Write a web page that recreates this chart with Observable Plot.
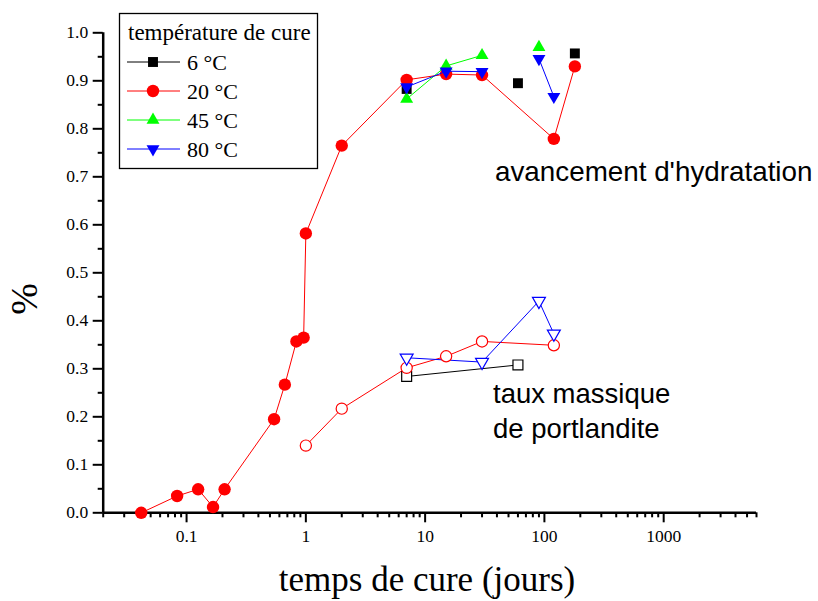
<!DOCTYPE html>
<html><head><meta charset="utf-8">
<script src="https://cdn.jsdelivr.net/npm/d3@7"></script>
<script src="https://cdn.jsdelivr.net/npm/@observablehq/plot@0.6"></script>
<style>body{margin:0;background:#fff} svg{display:block}</style>
</head><body><div id="chart"></div>
<script>
// ---- data ----
const hydr6Days = [7, 60, 180];
const hydr6 = [0.883, 0.895, 0.957];
const hydr20Days = [1/24, 2/24, 3/24, 4/24, 5/24, 13/24, 16/24, 20/24, 23/24, 1, 2, 7, 15, 30, 120, 180];
const hydr20 = [0.0, 0.035, 0.049, 0.012, 0.049, 0.195, 0.267, 0.357, 0.365, 0.582, 0.765, 0.902, 0.914, 0.912, 0.779, 0.930];
const hydr45Days = [7, 15, 30, 90];
const hydr45 = [0.862, 0.931, 0.953, 0.970];
const hydr45Run = [1, 1, 1, 2];
const hydr80Days = [7, 15, 30, 90, 120];
const hydr80 = [0.887, 0.920, 0.919, 0.946, 0.867];
const hydr80Run = [1, 1, 1, 2, 2];
const port6Days = [7, 60];
const port6 = [0.284, 0.308];
const port20Days = [1, 2, 7, 15, 30, 120];
const port20 = [0.140, 0.217, 0.302, 0.326, 0.357, 0.349];
const port80Days = [7, 30, 90, 120];
const port80 = [0.323, 0.314, 0.441, 0.373];

const yMajorTicks = [0, 0.1, 0.2, 0.3, 0.4, 0.5, 0.6, 0.7, 0.8, 0.9, 1.0];
const yMinorTicks = [0.05, 0.15, 0.25, 0.35, 0.45, 0.55, 0.65, 0.75, 0.85, 0.95];
const xMajorTicks = [0.1, 1, 10, 100, 1000];
const xTickLabels = ["0.1", "1", "10", "100", "1000"];
const xMinorTicks = [0.02, 0.03, 0.04, 0.05, 0.06, 0.07, 0.08, 0.09,
  0.2, 0.3, 0.4, 0.5, 0.6, 0.7, 0.8, 0.9,
  2, 3, 4, 5, 6, 7, 8, 9,
  20, 30, 40, 50, 60, 70, 80, 90,
  200, 300, 400, 500, 600, 700, 800, 900,
  2000, 3000, 4000, 5000, 6000];
const xDomain = [0.02, 6000];
const yDomain = [0, 1];

const legendTitle = "température de cure";
const legendLabels = ["6 °C", "20 °C", "45 °C", "80 °C"];
const seriesColors = ["#000000", "#ff0000", "#00ff00", "#0000ff"];
const xLabel = "temps de cure (jours)";
const yLabel = "%";
const noteHydr = "avancement d'hydratation";
const notePort = ["taux massique", "de portlandite"];

// ---- build tables ----
const rows = (xs, ys, run) => xs.map((x, i) => ({x, y: ys[i], run: run ? run[i] : 0}));
const h6 = rows(hydr6Days, hydr6);
const h20 = rows(hydr20Days, hydr20);
const h45 = rows(hydr45Days, hydr45, hydr45Run);
const h80 = rows(hydr80Days, hydr80, hydr80Run);
const p6 = rows(port6Days, port6);
const p20 = rows(port20Days, port20);
const p80 = rows(port80Days, port80);

const SERIF = "'Liberation Serif', 'Times New Roman', serif";
const SANS = "'Liberation Sans', Arial, sans-serif";
const [cK, cR, cG, cB] = seriesColors;
const rSq = 5.6, rCi = 6.2, rOc = 5.6, rTr = 4.8;

const chart = Plot.plot({
  width: 818, height: 601,
  marginLeft: 102.7, marginRight: 62, marginTop: 32.3, marginBottom: 88.7,
  x: {type: "log", domain: xDomain, axis: null},
  y: {domain: yDomain, axis: null},
  style: {fontFamily: SERIF, background: "white", color: "black", overflow: "visible"},
  marks: [
    // axes
    Plot.axisY(yMinorTicks, {tickSize: 5, strokeWidth: 2, tickFormat: () => "", label: null}),
    Plot.axisY(yMajorTicks, {tickSize: 10, tickPadding: 5, strokeWidth: 2, fontSize: 17.5, tickFormat: d3.format(".1f"), label: null}),
    Plot.axisX(xMinorTicks, {tickSize: 5, strokeWidth: 2, tickFormat: () => "", label: null}),
    Plot.axisX(xMajorTicks, {tickSize: 10, tickPadding: 7, strokeWidth: 2, fontSize: 17.5, tickFormat: d => xTickLabels[xMajorTicks.indexOf(d)], label: null}),
    Plot.ruleX([xDomain[0]], {stroke: "black", strokeWidth: 2.5}),
    Plot.ruleY([yDomain[0]], {stroke: "black", strokeWidth: 2.5}),
    // portlandite (open markers)
    Plot.line(p6, {x: "x", y: "y", stroke: cK, strokeWidth: 1}),
    Plot.line(p20, {x: "x", y: "y", stroke: cR, strokeWidth: 1}),
    Plot.line(p80, {x: "x", y: "y", stroke: cB, strokeWidth: 1}),
    Plot.dot(p6, {x: "x", y: "y", symbol: "square", r: rSq, fill: "white", stroke: cK, strokeWidth: 1.2}),
    Plot.dot(p20, {x: "x", y: "y", symbol: "circle", r: rOc, fill: "white", stroke: cR, strokeWidth: 1.2}),
    Plot.dot(p80, {x: "x", y: "y", symbol: "triangle", rotate: 180, r: rTr, fill: "white", stroke: cB, strokeWidth: 1.2}),
    // hydration (filled markers)
    Plot.dot(h6, {x: "x", y: "y", symbol: "square", r: rSq, fill: cK}),
    Plot.line(h20, {x: "x", y: "y", stroke: cR, strokeWidth: 1}),
    Plot.dot(h20, {x: "x", y: "y", symbol: "circle", r: rCi, fill: cR}),
    Plot.line(h45, {x: "x", y: "y", z: "run", stroke: cG, strokeWidth: 1}),
    Plot.dot(h45, {x: "x", y: "y", symbol: "triangle", r: rTr, fill: cG}),
    Plot.line(h80, {x: "x", y: "y", z: "run", stroke: cB, strokeWidth: 1}),
    Plot.dot(h80, {x: "x", y: "y", symbol: "triangle", rotate: 180, r: rTr, fill: cB})
  ]
});
document.getElementById("chart").appendChild(chart);

// ---- annotations, axis titles and legend ----
const svg = d3.select(chart);
const txt = (sel, x, y, s, family, size, anchor) => sel.append("text").attr("x", x).attr("y", y)
  .attr("text-anchor", anchor || "start").attr("font-family", family).attr("font-size", size)
  .attr("fill", "black").text(s);
txt(svg, 427, 591, xLabel, SERIF, 35, "middle");
svg.append("text").attr("transform", "translate(37,299) rotate(-90)").attr("text-anchor", "middle")
  .attr("font-family", SERIF).attr("font-size", 38).attr("fill", "black").text(yLabel);
txt(svg, 495, 181, noteHydr, SANS, 27.8);
notePort.forEach((t, i) => txt(svg, 493, 403 + i * 35, t, SANS, 27.5));

const lg = svg.append("g");
lg.append("rect").attr("x", 119.5).attr("y", 13.5).attr("width", 198).attr("height", 155)
  .attr("fill", "white").attr("stroke", "black").attr("stroke-width", 1.3);
txt(lg, 128, 39.5, legendTitle, SERIF, 23);
const legendSymbols = [
  {type: d3.symbolSquare, r: rSq, rot: 0},
  {type: d3.symbolCircle, r: rCi, rot: 0},
  {type: d3.symbolTriangle, r: rTr, rot: 0},
  {type: d3.symbolTriangle, r: rTr, rot: 180}
];
legendLabels.forEach((lab, i) => {
  const yc = 62 + i * 29;
  lg.append("line").attr("x1", 127).attr("x2", 180).attr("y1", yc).attr("y2", yc)
    .attr("stroke", seriesColors[i]).attr("stroke-width", 1);
  const s = legendSymbols[i];
  lg.append("path").attr("d", d3.symbol(s.type, Math.PI * s.r * s.r)())
    .attr("transform", `translate(153,${yc}) rotate(${s.rot})`).attr("fill", seriesColors[i]);
  txt(lg, 187, yc + 7.5, lab, SERIF, 22);
});
</script>
</body></html>
